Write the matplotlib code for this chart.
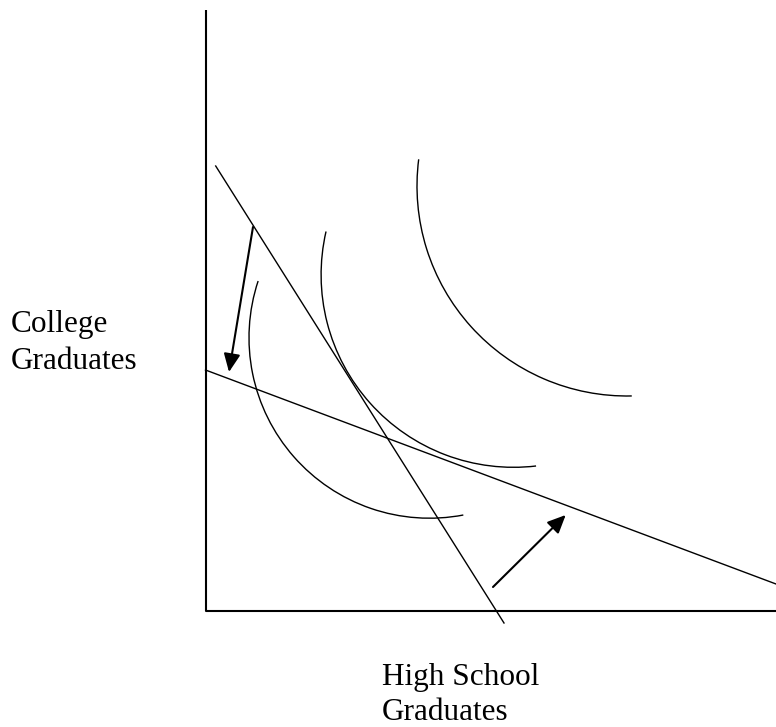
import matplotlib
matplotlib.use("Agg")
import matplotlib.pyplot as plt
from matplotlib.patches import Arc, FancyArrowPatch

# ---- diagram geometry (image pixel units, y downwards) ----
axis_x = [205.5, 205.5, 776.0]
axis_y = [10.0, 610.5, 610.5]

budget_old_x = [215.7, 504.0]
budget_old_y = [166.0, 623.0]
budget_new_x = [205.5, 776.0]
budget_new_y = [370.0, 584.0]

# indifference curves as circular arcs
curve_cx = [429.5, 513.6, 627.0]
curve_cy = [337.7, 274.8, 186.0]
curve_r = [180.5, 192.5, 210.0]
curve_theta1 = [79.2, 83.3, 88.7]
curve_theta2 = [198.3, 193.0, 187.3]

arrow_start = [(253.0, 227.0), (493.0, 587.0)]
arrow_end = [(229.0, 372.0), (565.7, 515.0)]

ylabel_lines = ["College", "Graduates"]
ylabel_pos = [(11, 332), (11, 369)]
xlabel_lines = ["High School", "Graduates"]
xlabel_pos = [(382, 685), (382, 720)]

W, H = 776, 727
fig = plt.figure(figsize=(W / 100, H / 100), dpi=100)
ax = fig.add_axes([0, 0, 1, 1])
ax.set_xlim(0, W)
ax.set_ylim(H, 0)
ax.axis("off")

ax.plot(axis_x, axis_y, color="black", lw=1.5, solid_capstyle="butt")
ax.plot(budget_old_x, budget_old_y, color="black", lw=1.0)
ax.plot(budget_new_x, budget_new_y, color="black", lw=1.0)

for cx, cy, r, t1, t2 in zip(curve_cx, curve_cy, curve_r, curve_theta1, curve_theta2):
    ax.add_patch(Arc((cx, cy), 2 * r, 2 * r, theta1=t1, theta2=t2,
                     color="black", lw=1.0))

for s, e in zip(arrow_start, arrow_end):
    ax.add_patch(FancyArrowPatch(s, e, arrowstyle="-|>,head_length=11,head_width=5",
                                 mutation_scale=1, shrinkA=0, shrinkB=0,
                                 color="black", lw=1.5))

for txt, (x, y) in zip(ylabel_lines, ylabel_pos):
    ax.text(x, y, txt, fontsize=22.5, family="Liberation Serif",
            ha="left", va="baseline")
for txt, (x, y) in zip(xlabel_lines, xlabel_pos):
    ax.text(x, y, txt, fontsize=22.5, family="Liberation Serif",
            ha="left", va="baseline")

fig.savefig("out.png", dpi=100)
